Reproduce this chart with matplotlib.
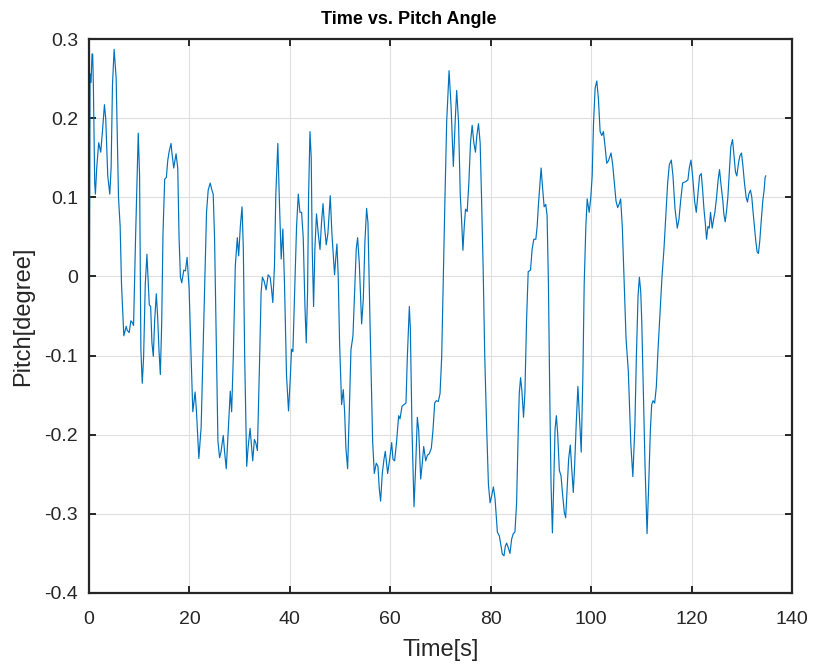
import numpy as np
import matplotlib
matplotlib.use('Agg')
import matplotlib.pyplot as plt

plt.rcParams['font.family'] = ['Liberation Sans', 'DejaVu Sans']

# tiempo [s] y pitch [degree]
tiempo = [0.0, 0.2, 0.4, 0.6, 0.73, 0.87, 1.13, 1.27, 1.53, 1.93, 2.33, 2.67, 3.07, 3.33, 3.73, 4.13, 4.4, 4.67, 5.0, 5.4,
          5.87, 6.2, 6.47, 6.93, 7.13, 7.4, 7.6, 8.0, 8.33, 8.6, 8.87, 9.27, 9.8, 10.07, 10.33, 10.6, 10.87, 11.2, 11.53, 11.8,
          12.0, 12.27, 12.53, 12.8, 13.07, 13.4, 13.67, 13.93, 14.2, 14.47, 14.73, 15.07, 15.4, 15.67, 15.93, 16.33, 16.53, 16.87, 17.33, 17.67,
          17.93, 18.2, 18.47, 18.87, 19.2, 19.53, 19.93, 20.33, 20.67, 21.13, 21.4, 21.87, 22.33, 22.87, 23.4, 23.73, 24.13, 24.47, 24.73, 25.0,
          25.4, 25.67, 26.0, 26.27, 26.73, 27.0, 27.33, 27.73, 28.13, 28.4, 28.73, 29.13, 29.53, 29.8, 30.13, 30.47, 30.73, 31.0, 31.4, 31.67,
          32.07, 32.33, 32.6, 32.93, 33.2, 33.53, 33.93, 34.27, 34.53, 34.87, 35.27, 35.67, 36.07, 36.33, 36.6, 36.93, 37.2, 37.6, 37.93, 38.27,
          38.6, 38.93, 39.33, 39.73, 40.07, 40.33, 40.6, 41.0, 41.33, 41.67, 42.0, 42.33, 42.66, 43.0, 43.26, 43.52, 43.72, 44.0, 44.25, 44.45,
          44.72, 44.98, 45.3, 45.65, 46.0, 46.3, 46.6, 46.9, 47.24, 47.57, 48.04, 48.37, 48.9, 49.17, 49.37, 49.63, 49.9, 50.3, 50.63, 50.9,
          51.16, 51.5, 51.83, 52.16, 52.56, 52.9, 53.22, 53.49, 53.82, 54.29, 54.62, 54.95, 55.28, 55.55, 55.95, 56.28, 56.48, 56.81, 57.2, 57.54,
          57.8, 58.07, 58.4, 58.74, 59.0, 59.47, 59.87, 60.27, 60.53, 60.86, 61.26, 61.66, 61.93, 62.33, 62.72, 63.12, 63.39, 63.79, 63.99, 64.32,
          64.72, 65.05, 65.38, 65.65, 66.05, 66.31, 66.65, 67.05, 67.38, 67.77, 68.17, 68.5, 68.84, 69.17, 69.57, 69.9, 70.23, 70.56, 70.9, 71.23,
          71.7, 72.1, 72.55, 72.95, 73.22, 73.58, 73.93, 74.19, 74.46, 74.72, 74.98, 75.31, 75.64, 75.97, 76.3, 76.63, 76.96, 77.23, 77.56, 77.89,
          78.15, 78.48, 78.81, 79.2, 79.54, 79.87, 80.13, 80.53, 80.86, 81.32, 81.72, 82.05, 82.31, 82.64, 82.9, 83.17, 83.5, 83.83, 84.16, 84.49,
          84.82, 85.15, 85.48, 85.68, 85.94, 86.2, 86.53, 86.8, 87.13, 87.46, 87.92, 88.25, 88.58, 88.98, 89.24, 89.5, 89.77, 90.03, 90.3, 90.63,
          90.96, 91.22, 91.49, 91.75, 92.01, 92.28, 92.54, 92.8, 93.07, 93.33, 93.66, 94.0, 94.26, 94.65, 94.92, 95.18, 95.51, 95.84, 96.1, 96.44,
          96.7, 97.03, 97.36, 97.62, 98.02, 98.35, 98.61, 98.94, 99.21, 99.6, 99.93, 100.2, 100.46, 100.79, 101.12, 101.45, 101.78, 102.11, 102.44, 102.77,
          103.1, 103.43, 103.96, 104.29, 104.62, 104.95, 105.28, 105.61, 105.87, 106.2, 106.53, 106.95, 107.4, 107.9, 108.3, 108.7, 109.0, 109.34, 109.6, 109.87,
          110.07, 110.4, 110.73, 111.13, 111.46, 111.79, 112.05, 112.32, 112.65, 112.98, 113.31, 113.71, 114.1, 114.5, 114.9, 115.23, 115.56, 115.96, 116.29, 116.69,
          117.15, 117.48, 117.81, 118.21, 118.54, 118.87, 119.27, 119.54, 119.87, 120.2, 120.6, 120.93, 121.26, 121.59, 121.92, 122.19, 122.45, 122.72, 122.98, 123.25,
          123.51, 123.77, 124.1, 124.37, 124.64, 124.97, 125.3, 125.56, 125.89, 126.23, 126.42, 126.69, 126.95, 127.22, 127.55, 127.81, 128.15, 128.41, 128.74, 129.0,
          129.34, 129.6, 129.93, 130.2, 130.53, 130.86, 131.13, 131.39, 131.72, 131.99, 132.25, 132.52, 132.78, 133.05, 133.31, 133.58, 133.84, 134.17, 134.44, 134.64,
          134.77]

pitch = [-0.19, 0.256, 0.245, 0.281, 0.281, 0.24, 0.118, 0.104, 0.137, 0.169, 0.157, 0.183, 0.217, 0.199, 0.127, 0.104, 0.137, 0.242, 0.287, 0.251,
         0.10, 0.063, -0.01, -0.075, -0.07, -0.063, -0.068, -0.071, -0.056, -0.058, -0.062, 0.049, 0.181, 0.127, -0.093, -0.135, -0.102, -0.01, 0.028, -0.01,
         -0.036, -0.038, -0.084, -0.101, -0.056, -0.022, -0.052, -0.093, -0.124, -0.06, 0.054, 0.123, 0.125, 0.146, 0.157, 0.168, 0.155, 0.137, 0.155, 0.137,
         0.049, -0.001, -0.008, 0.008, 0.007, 0.024, -0.015, -0.102, -0.171, -0.146, -0.171, -0.23, -0.19, -0.056, 0.081, 0.109, 0.118, 0.109, 0.104, 0.049,
         -0.102, -0.208, -0.229, -0.222, -0.201, -0.222, -0.243, -0.194, -0.145, -0.171, -0.102, 0.013, 0.049, 0.026, 0.063, 0.088, 0.035, -0.102, -0.24, -0.217,
         -0.192, -0.212, -0.233, -0.206, -0.21, -0.22, -0.116, -0.02, -0.001, -0.006, -0.017, 0.002, -0.001, -0.015, -0.033, 0.013, 0.104, 0.168, 0.091, 0.022,
         0.06, -0.01, -0.125, -0.17, -0.13, -0.092, -0.095, -0.01, 0.063, 0.104, 0.081, 0.081, 0.049, -0.038, -0.084, -0.02, 0.1, 0.183, 0.15, 0.035,
         -0.038, 0.035, 0.079, 0.054, 0.034, 0.068, 0.092, 0.063, 0.04, 0.054, 0.102, 0.054, 0.002, 0.026, 0.041, -0.001, -0.084, -0.162, -0.143, -0.171,
         -0.217, -0.243, -0.171, -0.093, -0.075, -0.02, 0.035, 0.049, 0.017, -0.06, -0.029, 0.045, 0.086, 0.068, -0.056, -0.148, -0.208, -0.249, -0.236, -0.24,
         -0.268, -0.284, -0.249, -0.231, -0.221, -0.249, -0.231, -0.21, -0.231, -0.233, -0.208, -0.176, -0.18, -0.164, -0.162, -0.16, -0.102, -0.038, -0.066, -0.194,
         -0.291, -0.24, -0.178, -0.194, -0.256, -0.24, -0.215, -0.233, -0.226, -0.224, -0.217, -0.194, -0.16, -0.157, -0.158, -0.148, -0.102, -0.001, 0.104, 0.196,
         0.26, 0.215, 0.139, 0.2, 0.235, 0.196, 0.104, 0.072, 0.033, 0.063, 0.085, 0.082, 0.118, 0.169, 0.191, 0.169, 0.157, 0.178, 0.193, 0.169,
         0.104, 0.013, -0.102, -0.194, -0.263, -0.286, -0.279, -0.266, -0.281, -0.323, -0.328, -0.341, -0.351, -0.353, -0.341, -0.337, -0.343, -0.35, -0.332, -0.325,
         -0.323, -0.286, -0.194, -0.148, -0.128, -0.144, -0.178, -0.148, -0.056, 0.006, 0.008, 0.035, 0.047, 0.047, 0.063, 0.091, 0.114, 0.137, 0.114, 0.088,
         0.091, 0.077, -0.01, -0.148, -0.263, -0.324, -0.263, -0.194, -0.176, -0.199, -0.245, -0.252, -0.272, -0.298, -0.305, -0.272, -0.231, -0.213, -0.24, -0.273,
         -0.24, -0.185, -0.139, -0.171, -0.222, -0.125, -0.01, 0.063, 0.098, 0.081, 0.1, 0.127, 0.192, 0.238, 0.247, 0.224, 0.183, 0.178, 0.183, 0.164,
         0.143, 0.146, 0.156, 0.141, 0.118, 0.095, 0.087, 0.092, 0.098, 0.063, -0.001, -0.079, -0.12, -0.212, -0.253, -0.19, -0.102, -0.024, -0.001, -0.019,
         -0.056, -0.148, -0.24, -0.325, -0.263, -0.194, -0.162, -0.157, -0.16, -0.139, -0.093, -0.047, -0.001, 0.035, 0.081, 0.118, 0.141, 0.147, 0.127, 0.086,
         0.061, 0.072, 0.095, 0.118, 0.119, 0.12, 0.122, 0.137, 0.147, 0.127, 0.095, 0.081, 0.104, 0.127, 0.13, 0.11, 0.086, 0.068, 0.047, 0.063,
         0.061, 0.081, 0.061, 0.072, 0.081, 0.1, 0.123, 0.135, 0.114, 0.095, 0.079, 0.069, 0.082, 0.1, 0.137, 0.164, 0.173, 0.155, 0.132, 0.127,
         0.143, 0.152, 0.156, 0.141, 0.118, 0.1, 0.094, 0.104, 0.109, 0.1, 0.081, 0.063, 0.045, 0.031, 0.029, 0.045, 0.068, 0.095, 0.109, 0.125,
         0.127]

xticks = [0, 20, 40, 60, 80, 100, 120, 140]
yticks = [-0.4, -0.3, -0.2, -0.1, 0, 0.1, 0.2, 0.3]

fig = plt.figure(figsize=(8.13, 6.68), dpi=100)
ax = fig.add_axes([0.1095, 0.1123, 0.8647, 0.8293])

ax.plot(tiempo, pitch, color='#0072BD', linewidth=0.85)

ax.set_xlim(0, 140)
ax.set_ylim(-0.4, 0.3)
ax.set_xticks(xticks)
ax.set_yticks(yticks)
ax.set_xticklabels([str(x) for x in xticks])
ax.set_yticklabels(['-0.4', '-0.3', '-0.2', '-0.1', '0', '0.1', '0.2', '0.3'])

ax.grid(True, color='#dfdfdf', linewidth=0.8)
ax.set_axisbelow(True)
for s in ax.spines.values():
    s.set_color('#262626')
    s.set_linewidth(1.6)
ax.tick_params(direction='in', top=True, right=True, length=5, width=1.4,
               color='#262626', labelcolor='#262626', labelsize=14)
ax.tick_params(axis='x', pad=13)
ax.tick_params(axis='y', pad=8)

ax.set_title('Time vs. Pitch Angle', fontsize=13, fontweight='bold', pad=11, x=0.455)
ax.set_xlabel('Time[s]', fontsize=17, color='#262626', labelpad=8)
ax.set_ylabel('Pitch[degree]', fontsize=17, color='#262626', labelpad=7)

fig.savefig('out.png', dpi=100)
